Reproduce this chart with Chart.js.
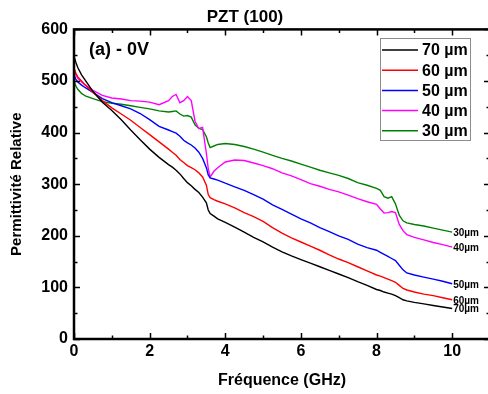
<!DOCTYPE html>
<html>
<head>
<meta charset="utf-8">
<title>PZT (100)</title>
<script src="https://cdn.jsdelivr.net/npm/chart.js@4.4.1/dist/chart.umd.min.js"></script>
<style>
  html, body { margin: 0; padding: 0; background: #fff; overflow: hidden; }
  #wrap { width: 488px; height: 394px; overflow: hidden; position: relative; }
  #c { position: absolute; left: 0; top: 0; }
</style>
</head>
<body>
<div id="wrap"><canvas id="c" width="492" height="394"></canvas></div>
<script>
// Frequency samples (GHz), shared by all thicknesses
const freqGHz = [
  0, 0.05, 0.1, 0.2, 0.3, 0.5, 0.75, 1, 1.25, 1.5, 1.75, 2, 2.25,
  2.5, 2.6, 2.7, 2.8, 2.9, 3.0, 3.1, 3.2, 3.3, 3.4, 3.5, 3.55,
  3.6, 3.7, 3.8, 4, 4.25, 4.5, 4.75, 5, 5.25, 5.5, 5.75, 6, 6.25,
  6.5, 6.75, 7, 7.25, 7.5, 7.75, 8, 8.1, 8.2, 8.3, 8.4, 8.5, 8.6,
  8.7, 8.8, 9, 9.25, 9.5, 9.75, 10
];

// Relative permittivity for each film thickness
const perm70 = [
  548, 536, 526, 512, 501, 480, 459, 443, 425, 405, 386, 368, 352,
  338, 333, 327, 320, 311, 303, 297, 290, 284, 275, 264, 250,
  243, 238, 233, 226, 217, 207, 197, 188, 178, 169, 161, 154, 147,
  140, 133, 126, 119, 111, 104, 96, 94, 91, 89, 87, 84, 80,
  76, 74, 71, 68, 65, 62, 59
];
const perm60 = [
  525, 515, 508, 500, 492, 478, 462, 448, 436, 424, 410, 396, 382,
  368, 362, 356, 348, 342, 336, 332, 328, 322, 314, 298, 280,
  274, 270, 267, 262, 254, 245, 237, 228, 216, 205, 196, 188, 180,
  172, 163, 155, 148, 140, 132, 124, 122, 119, 116, 113, 110, 104,
  98, 95, 91, 87, 84, 80, 76
];
const perm50 = [
  512, 503, 498, 492, 487, 478, 466, 458, 452, 446, 437, 425, 412,
  405, 402, 399, 393, 385, 380, 376, 370, 362, 350, 332, 318,
  312, 310, 308, 302, 295, 288, 280, 271, 260, 251, 242, 233, 225,
  216, 208, 200, 193, 184, 177, 172, 168, 164, 160, 156, 152, 143,
  134, 128, 124, 120, 116, 112, 107
];
const perm40 = [
  522, 512, 505, 498, 492, 482, 472, 467, 465, 462, 461, 459, 454,
  462, 470, 474, 458, 462, 470, 462, 422, 408, 410, 360, 330,
  314, 325, 332, 343, 347, 346, 341, 336, 330, 322, 316, 309, 301,
  296, 290, 285, 279, 272, 266, 261, 252, 244, 245, 247, 245, 222,
  210, 202, 197, 192, 187, 183, 178
];
const perm30 = [
  500, 490, 484, 476, 471, 466, 460, 457, 455, 452, 449, 446, 442,
  440, 441, 442, 436, 432, 433, 430, 415, 408, 406, 392, 380,
  371, 374, 377, 379, 377, 373, 368, 362, 356, 350, 345, 339, 333,
  327, 322, 317, 311, 303, 298, 292, 288, 276, 273, 276, 262, 240,
  229, 225, 222, 219, 215, 211, 207
];

const seriesValues = [perm70, perm60, perm50, perm40, perm30];
const seriesLabels = ['70 µm', '60 µm', '50 µm', '40 µm', '30 µm'];
const endLabels = ['70µm', '60µm', '50µm', '40µm', '30µm'];
const seriesColors = ['#000000', '#ff0000', '#0000ff', '#ff00ff', '#008000'];

// Axis ticks
const xMajorTicks = [0, 2, 4, 6, 8, 10];
const yMajorTicks = [0, 100, 200, 300, 400, 500, 600];

const FONT = "'Liberation Sans', Arial, Helvetica, sans-serif";
const X_MAX = 11;
const X_MINOR_STEP = 1;
const Y_MINOR_STEP = 50;

// Axis frame with inward tick marks, in-plot legend and curve-end labels
const framePlugin = {
  id: 'frame',
  afterDatasetsDraw(chart) {
    const { ctx, chartArea: a, scales: { x, y } } = chart;
    ctx.save();
    ctx.strokeStyle = '#000';

    // tick marks on all four sides
    ctx.lineWidth = 1.5;
    ctx.beginPath();
    for (let v = 0; v <= X_MAX + 1e-9; v += X_MINOR_STEP) {
      const px = Math.round(x.getPixelForValue(v)) + 0.5;
      const len = xMajorTicks.includes(v) ? 6 : 3.5;
      ctx.moveTo(px, a.bottom); ctx.lineTo(px, a.bottom - len);
      ctx.moveTo(px, a.top); ctx.lineTo(px, a.top + len);
    }
    for (let v = 0; v <= 600; v += Y_MINOR_STEP) {
      const py = Math.round(y.getPixelForValue(v)) + 0.5;
      const len = yMajorTicks.includes(v) ? 6 : 3.5;
      ctx.moveTo(a.left, py); ctx.lineTo(a.left + len, py);
      ctx.moveTo(a.right, py); ctx.lineTo(a.right - len, py);
    }
    ctx.stroke();

    // frame
    ctx.lineWidth = 2.5;
    ctx.strokeRect(a.left, a.top, a.right - a.left, a.bottom - a.top);

    // panel tag
    ctx.fillStyle = '#000';
    ctx.font = 'bold 18px ' + FONT;
    ctx.textAlign = 'left';
    ctx.textBaseline = 'middle';
    ctx.fillText('(a) - 0V', a.left + 15, a.top + 21);

    // legend box
    const lx = 380.5, ly = 38.5, lw = 90, lh = 102;
    ctx.fillStyle = '#fff';
    ctx.fillRect(lx, ly, lw, lh);
    ctx.strokeStyle = '#8c8c8c';
    ctx.lineWidth = 1;
    ctx.strokeRect(lx, ly, lw, lh);
    ctx.font = 'bold 16px ' + FONT;
    chart.data.datasets.forEach((ds, i) => {
      const ry = 50 + i * 20.2;
      ctx.strokeStyle = ds.borderColor;
      ctx.lineWidth = 1.5;
      ctx.beginPath();
      ctx.moveTo(382, ry); ctx.lineTo(418, ry);
      ctx.stroke();
      ctx.fillStyle = '#000';
      ctx.fillText(ds.label, 422, ry + 1);
    });

    // thickness labels at the end of each curve
    ctx.font = 'bold 10px ' + FONT;
    ctx.fillStyle = '#000';
    chart.data.datasets.forEach((ds, i) => {
      const last = ds.data[ds.data.length - 1];
      ctx.fillText(endLabels[i], x.getPixelForValue(last.x) + 1, y.getPixelForValue(last.y) + 1);
    });
    ctx.restore();
  }
};

const tickFont = { family: FONT, size: 16, weight: 'bold' };

new Chart(document.getElementById('c').getContext('2d'), {
  type: 'line',
  data: {
    datasets: seriesValues.map((vals, i) => ({
      label: seriesLabels[i],
      data: freqGHz.map((f, j) => ({ x: f, y: vals[j] })),
      borderColor: seriesColors[i],
      backgroundColor: seriesColors[i],
      borderWidth: 1.4,
      pointRadius: 0,
      tension: 0,
      fill: false
    }))
  },
  options: {
    responsive: false,
    animation: false,
    layout: { padding: { left: 0, right: 2, top: 0, bottom: 0 } },
    plugins: {
      legend: { display: false },
      tooltip: { enabled: false },
      title: {
        display: true,
        text: 'PZT (100)',
        color: '#000',
        font: { family: FONT, size: 17, weight: 'bold' },
        padding: { top: 7, bottom: 2 }
      }
    },
    scales: {
      x: {
        type: 'linear',
        min: 0,
        max: X_MAX,
        grid: { display: false, drawTicks: false },
        border: { display: false },
        ticks: { color: '#000', font: tickFont, padding: 3, maxRotation: 0 },
        afterBuildTicks: s => { s.ticks = xMajorTicks.map(v => ({ value: v })); },
        afterFit: s => { s.height = 55; },
        title: {
          display: true,
          text: 'Fréquence (GHz)',
          color: '#000',
          font: { family: FONT, size: 16, weight: 'bold' },
          padding: { top: 0, bottom: 4 }
        }
      },
      y: {
        type: 'linear',
        min: 0,
        max: 600,
        grid: { display: false, drawTicks: false },
        border: { display: false },
        ticks: { color: '#000', font: tickFont, padding: 6 },
        afterBuildTicks: s => { s.ticks = yMajorTicks.map(v => ({ value: v })); },
        afterFit: s => { s.width = 74; },
        title: {
          display: true,
          text: 'Permittivité Relative',
          color: '#000',
          font: { family: FONT, size: 15, weight: 'bold' },
          padding: { top: 8, bottom: 0 }
        }
      }
    }
  },
  plugins: [framePlugin]
});
</script>
</body>
</html>
